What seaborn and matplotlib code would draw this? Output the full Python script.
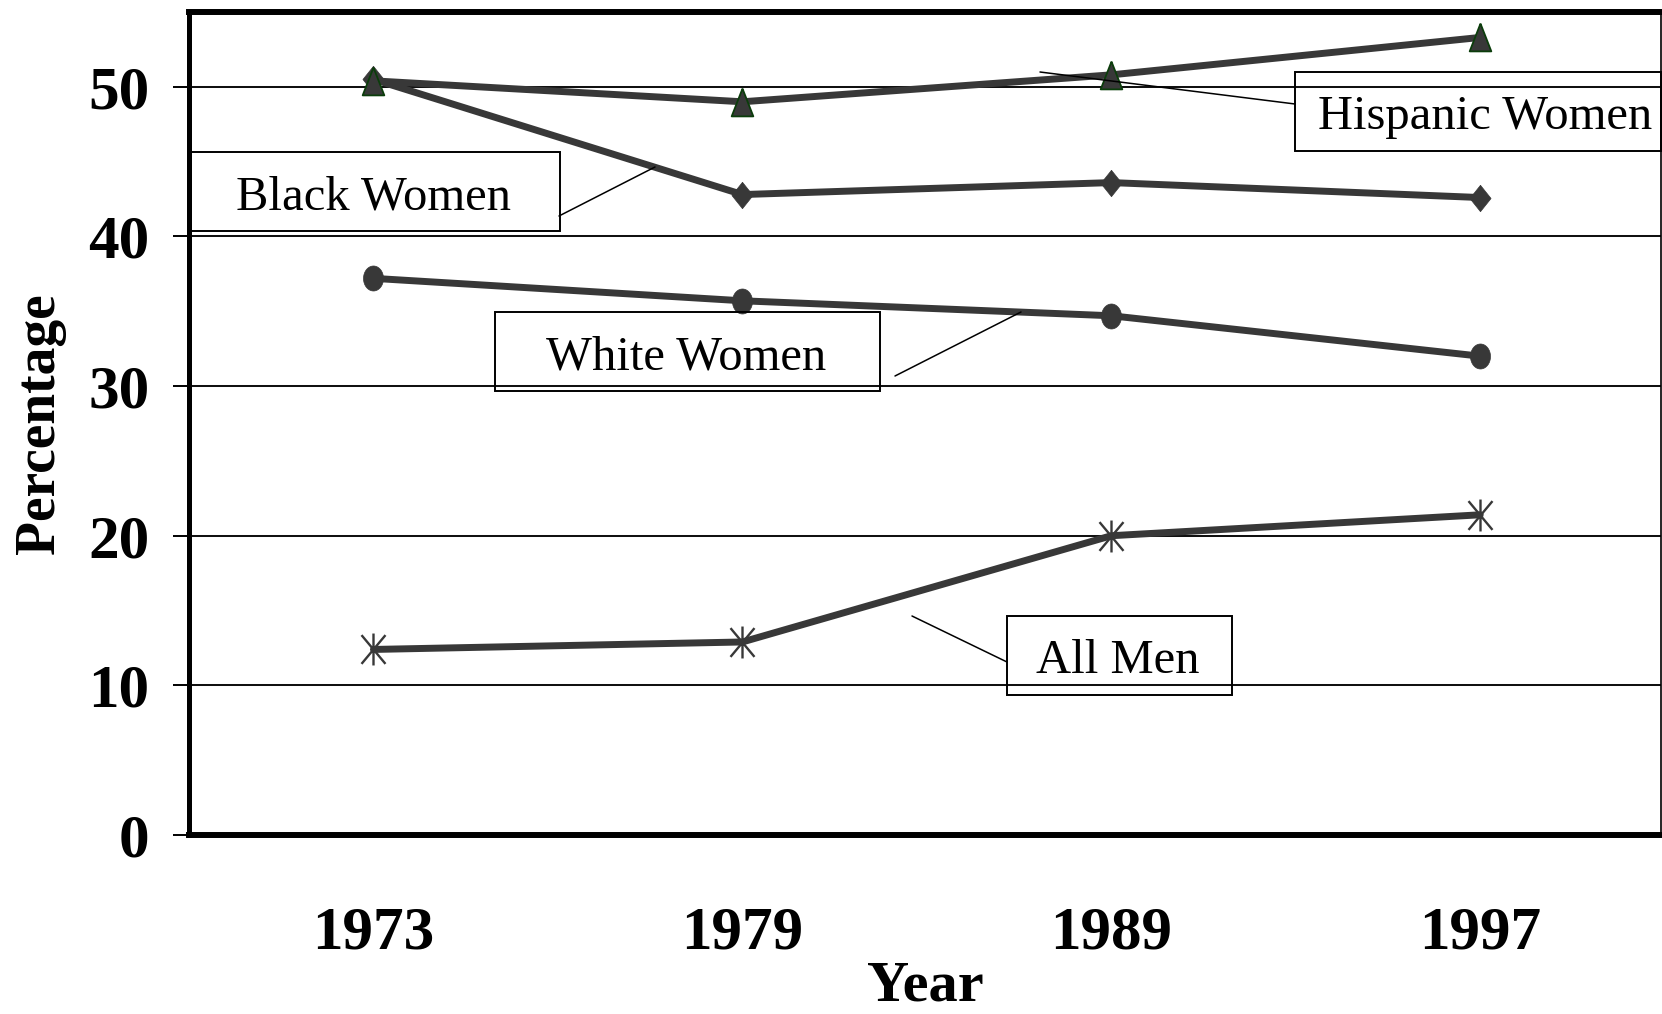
import numpy as np
import pandas as pd
import matplotlib
matplotlib.use("Agg")
import matplotlib.pyplot as plt
from matplotlib.lines import Line2D
from matplotlib.patches import Rectangle
from matplotlib.path import Path
from matplotlib.markers import MarkerStyle
import seaborn as sns

# ---------------- data ----------------
years = ["1973", "1979", "1989", "1997"]
hispanic_women = [50.4, 49.0, 50.8, 53.3]
black_women = [50.5, 42.8, 43.6, 42.6]
white_women = [37.2, 35.7, 34.7, 32.0]
all_men = [12.4, 12.9, 20.0, 21.4]
series_names = ["All Men", "White Women", "Black Women", "Hispanic Women"]
y_ticks = [0, 10, 20, 30, 40, 50]
x_label = "Year"
y_label = "Percentage"

values = {"All Men": all_men, "White Women": white_women,
          "Black Women": black_women, "Hispanic Women": hispanic_women}
df = pd.DataFrame([(s, y, v) for s in series_names for y, v in zip(years, values[s])],
                  columns=["series", "year", "value"])

# ---------------- style ----------------
sns.set_style("white")
plt.rcParams["font.family"] = ["Liberation Serif", "DejaVu Serif"]
plt.rcParams["text.color"] = "black"
plt.rcParams["axes.labelcolor"] = "black"
plt.rcParams["xtick.color"] = "black"
plt.rcParams["ytick.color"] = "black"

W, H = 1662, 1014
fig = plt.figure(figsize=(W / 100, H / 100), dpi=100)
ax = fig.add_axes([189 / W, 1 - 835 / H, (1661 - 189) / W, (835 - 12) / H])

# markers (slightly tall shapes as in the reference)
t = np.linspace(0, 2 * np.pi, 48)
ellipse = MarkerStyle(list(zip(0.8 * np.cos(t), np.sin(t))))
triangle = MarkerStyle([(0, 1), (-0.78, -1), (0.78, -1), (0, 1)])
diamond = MarkerStyle([(0, 1), (0.8, 0), (0, -1), (-0.8, 0), (0, 1)])
ast_path = Path([(0, -1), (0, 1), (-0.75, -0.9), (0.75, 0.9), (-0.75, 0.9), (0.75, -0.9)],
                [Path.MOVETO, Path.LINETO, Path.MOVETO, Path.LINETO, Path.MOVETO, Path.LINETO])
asterisk = MarkerStyle(ast_path)

line_color = "#383838"
styles = {
    "All Men": dict(marker=asterisk, markersize=23, markerfacecolor="none",
                    markeredgecolor=line_color, markeredgewidth=1.7),
    "White Women": dict(marker=ellipse, markersize=18, markerfacecolor=line_color,
                        markeredgecolor=line_color, markeredgewidth=0.5),
    "Black Women": dict(marker=diamond, markersize=19, markerfacecolor=line_color,
                        markeredgecolor=line_color, markeredgewidth=0.5),
    "Hispanic Women": dict(marker=triangle, markersize=20, markerfacecolor=line_color,
                           markeredgecolor="#0b3d0b", markeredgewidth=1.3),
}

for s in series_names:
    sns.lineplot(data=df[df["series"] == s], x="year", y="value", ax=ax,
                 color=line_color, linewidth=5.0, errorbar=None, zorder=3,
                 **styles[s])

# ---------------- axes ----------------
ax.set_xlim(-0.5, 3.49)
ax.set_ylim(0, 55)
ax.set_yticks(y_ticks)
ax.set_yticklabels([str(v) for v in y_ticks], fontsize=44, fontweight="bold", color="black")
ax.set_xticks(range(len(years)))
ax.set_xticklabels(years, fontsize=44, fontweight="bold", color="black")
ax.set_xticks([-0.5, 0.5, 1.5, 2.5], minor=True)
ax.tick_params(axis="x", which="major", length=0, pad=51)
ax.tick_params(axis="x", which="minor", length=14, width=1.2, color="black", direction="out")
ax.tick_params(axis="y", which="major", length=11.5, width=1.4, color="black",
               direction="out", pad=17, left=True)

ax.yaxis.grid(True, color="#111111", linewidth=1.45)
ax.xaxis.grid(False)
ax.set_axisbelow(True)

for side, lw in [("left", 3.6), ("bottom", 4.3), ("top", 4.3), ("right", 1.2)]:
    ax.spines[side].set_visible(True)
    ax.spines[side].set_color("black")
    ax.spines[side].set_linewidth(lw)

ax.set_xlabel(x_label, fontsize=42, fontweight="bold", color="black")
ax.xaxis.set_label_coords(0.5, -0.184)
ax.xaxis.label.set_va("center")
ax.set_ylabel(y_label, fontsize=40, fontweight="bold", color="black")
ax.yaxis.set_label_coords(-0.1010, 0.5)
ax.yaxis.label.set_va("center")

# ---------------- callout boxes ----------------
def fx(x):
    return x / W

def fy(y):
    return 1 - y / H

callouts = [
    # text, box (x0, y0, x1, y1), text center x, baseline y, leader line
    ("Black Women", (191, 152, 560, 231), 374, 209, ((559, 216), (655, 167))),
    ("Hispanic Women", (1295, 72, 1661, 151), 1485, 129, ((1295, 104), (1040, 72))),
    ("White Women", (495, 312, 880, 391), 686, 369, ((895, 376), (1021, 312))),
    ("All Men", (1007, 616, 1232, 695), 1118, 673, ((1007, 662), (912, 616))),
]
for text, (x0, y0, x1, y1), tx, ty, ((lx0, ly0), (lx1, ly1)) in callouts:
    fig.add_artist(Rectangle((fx(x0), fy(y1)), fx(x1) - fx(x0), fy(y0) - fy(y1),
                             transform=fig.transFigure, fill=False,
                             edgecolor="black", linewidth=1.4, zorder=5))
    fig.text(fx(tx), fy(ty), text, ha="center", va="baseline", fontsize=35,
             color="black", zorder=6)
    fig.add_artist(Line2D([fx(lx0), fx(lx1)], [fy(ly0), fy(ly1)],
                          transform=fig.transFigure, color="black",
                          linewidth=1.1, zorder=5))

fig.savefig("out.png", dpi=100)
